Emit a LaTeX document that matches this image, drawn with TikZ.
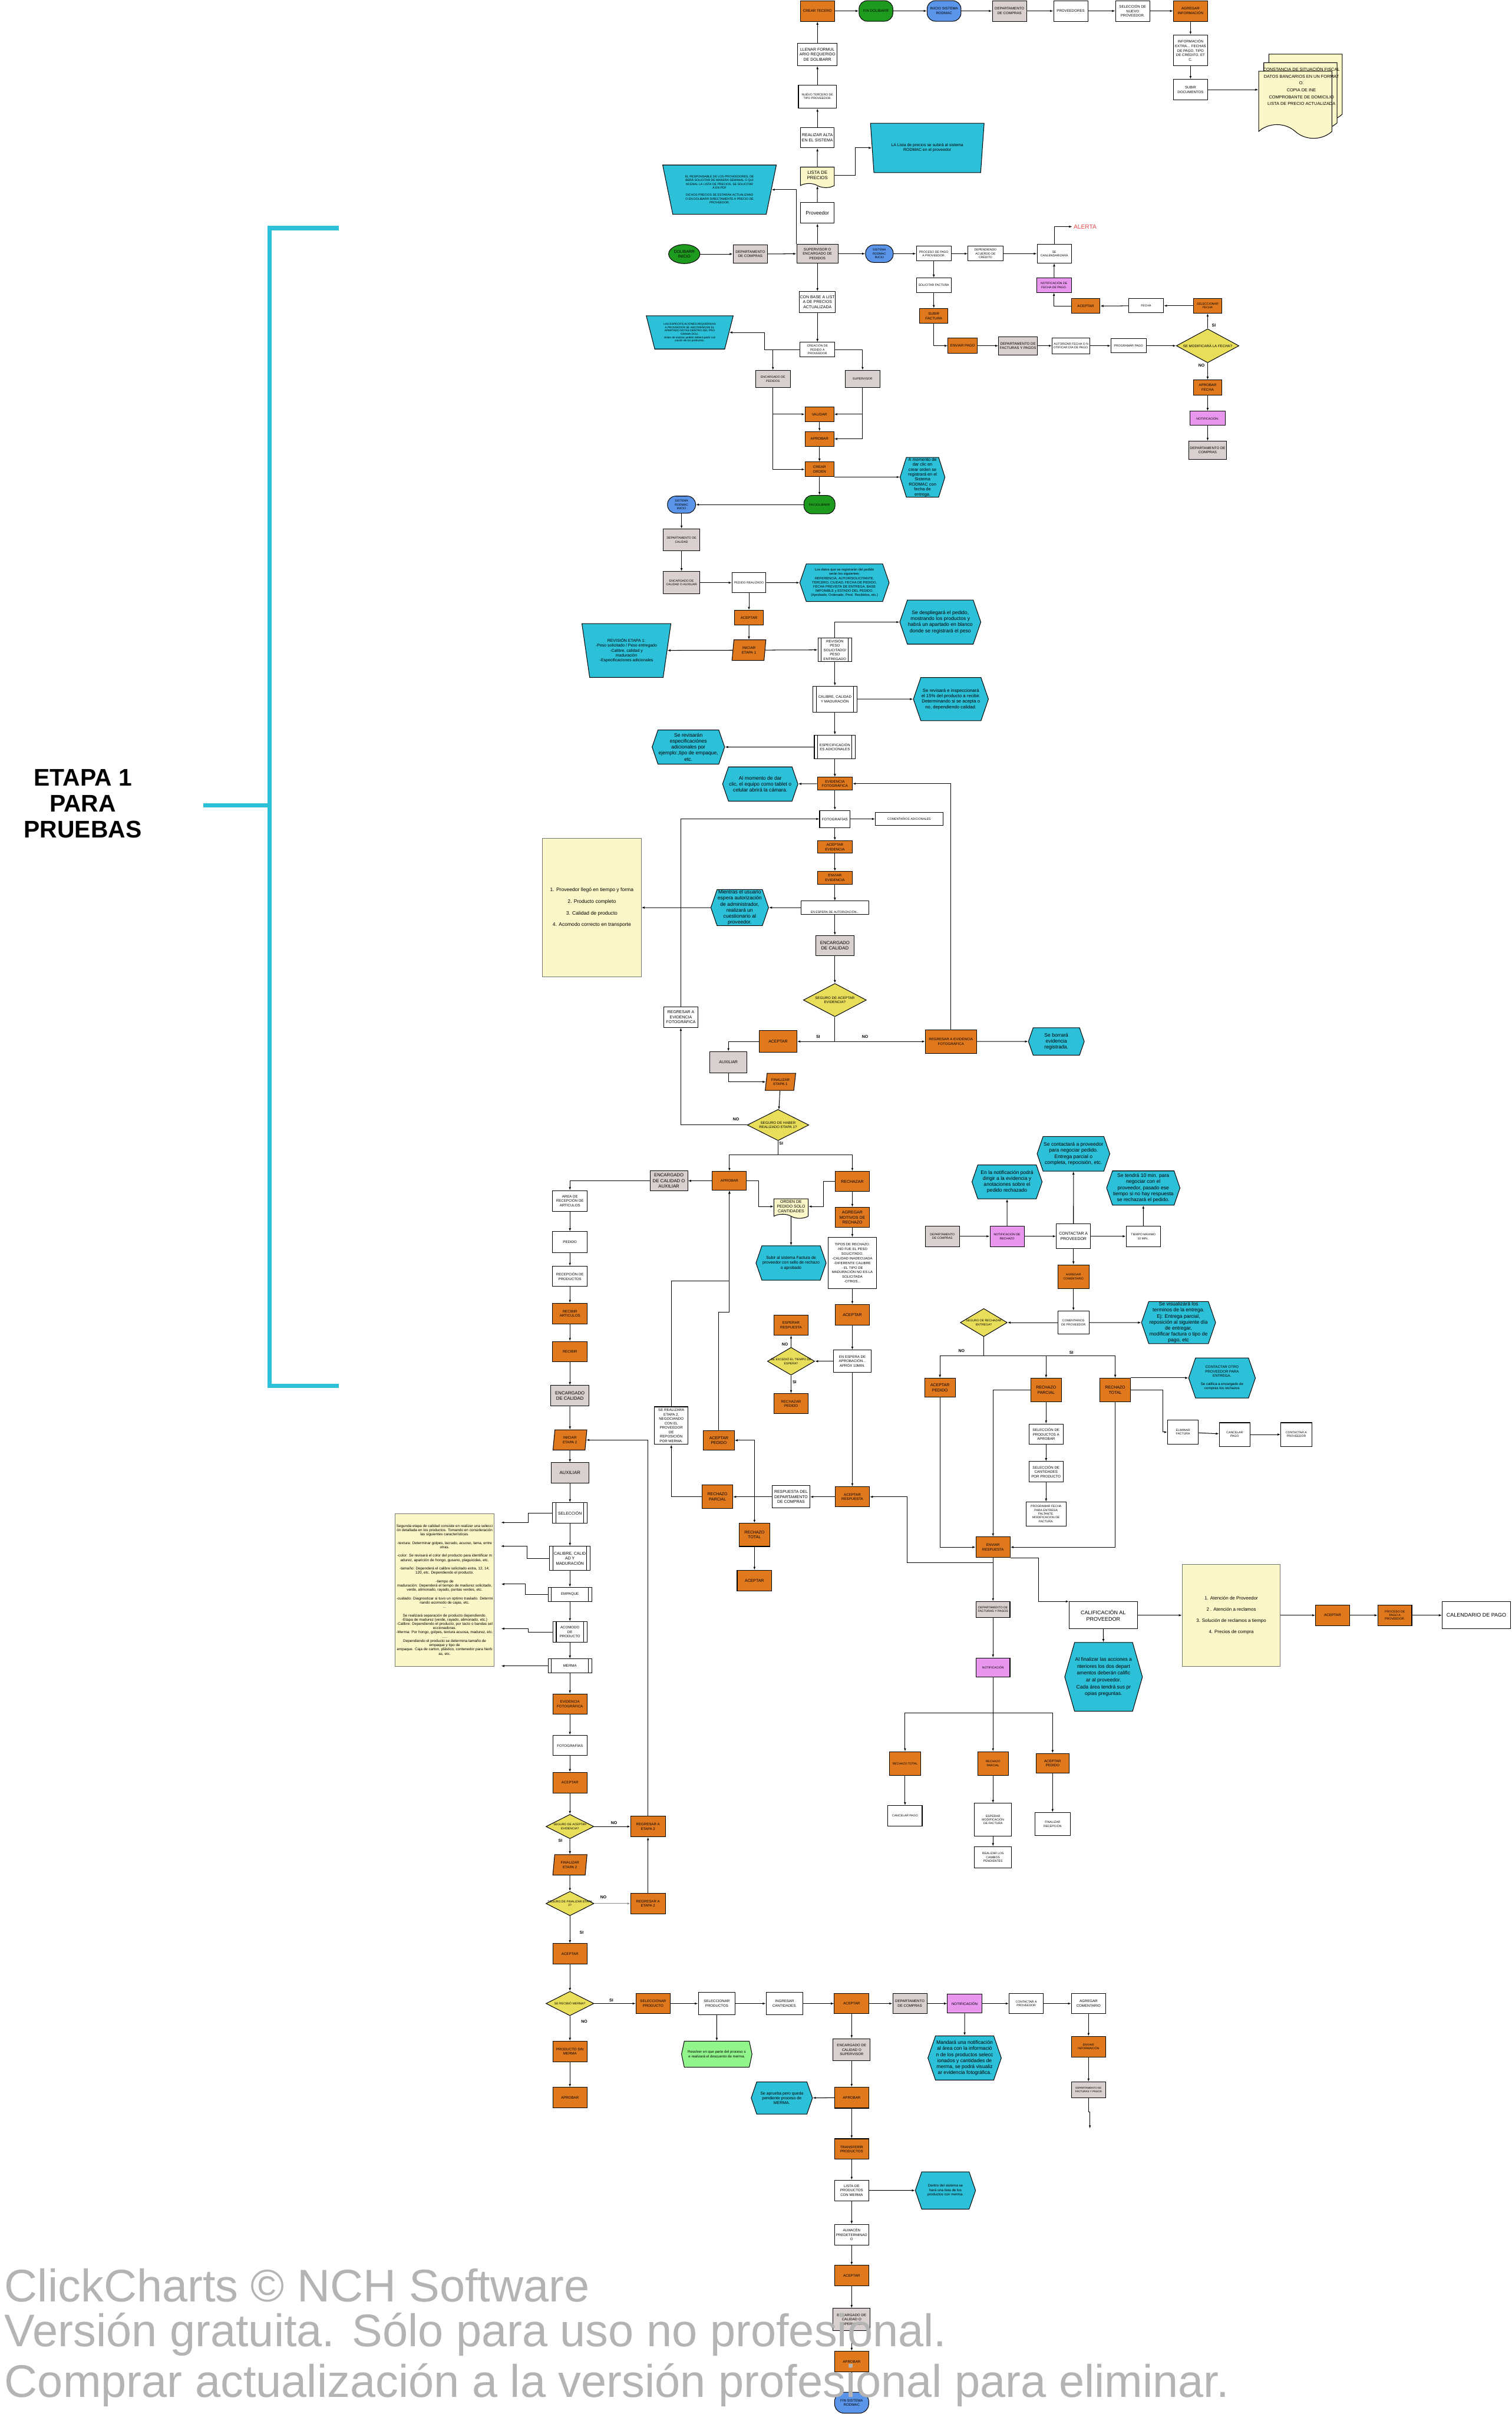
\documentclass[tikz,border=0pt]{standalone}
\usepackage{fontspec}
\setmainfont{Liberation Sans}
\usetikzlibrary{arrows.meta,shapes.geometric,shapes.symbols}
\definecolor{naranja}{HTML}{E0781E}
\definecolor{gris}{HTML}{D8CFCF}
\definecolor{rosa}{HTML}{E896EE}
\definecolor{cian}{HTML}{2CC0D9}
\definecolor{crema}{HTML}{FBF7C8}
\definecolor{amarillo}{HTML}{E8DE5A}
\definecolor{verde}{HTML}{1E9B1E}
\definecolor{verdec}{HTML}{92F58C}
\definecolor{azul}{HTML}{5B95E9}
\definecolor{rojo}{HTML}{F04848}
\definecolor{marca}{HTML}{B4B4B4}
\newcommand{\szA}{\fontsize{2.5}{3.1}\selectfont}
\newcommand{\szB}{\fontsize{3.0}{3.7}\selectfont}
\newcommand{\szC}{\fontsize{3.4}{4.1}\selectfont}
\newcommand{\szD}{\fontsize{3.8}{4.6}\selectfont}
\newcommand{\szE}{\fontsize{4.2}{5.0}\selectfont}
\tikzset{
  tam/.style 2 args={minimum width=#1cm,minimum height=#2cm},
  base/.style={draw,line width=0.5pt,align=center,inner sep=0.5pt,font=\szB},
  caja/.style={base,rectangle,fill=white},
  nar/.style={caja,fill=naranja},
  gri/.style={caja,fill=gris},
  ros/.style={caja,fill=rosa},
  nota/.style={caja,fill=crema,draw=black!55},
  proc/.style={caja,path picture={
      \draw[line width=0.5pt] ([xshift=0.1cm]path picture bounding box.north west) -- ([xshift=0.1cm]path picture bounding box.south west);
      \draw[line width=0.5pt] ([xshift=-0.1cm]path picture bounding box.north east) -- ([xshift=-0.1cm]path picture bounding box.south east);}},
  estadio/.style={base,rectangle,rounded corners=0.24cm},
  hexa/.style={base,signal,signal to=east and west,signal pointer angle=142,fill=cian,font=\szE},
  trap/.style={base,trapezium,shape border rotate=180,trapezium stretches body,fill=cian},
  paral/.style={base,trapezium,trapezium left angle=77,trapezium right angle=103,trapezium stretches body,fill=naranja},
  docu/.style={base,tape,tape bend top=none,tape bend bottom=out and in,tape bend height=0.12cm,fill=crema},
  rombo/.style={base,diamond,fill=amarillo,inner sep=0pt},
  lbl/.style={font=\bfseries\fontsize{3.4}{4}\selectfont,inner sep=0pt},
  flecha/.style={-{Latex[length=0.9mm,width=0.65mm]},line width=0.5pt},
  linea/.style={line width=0.5pt}
}
\begin{document}
\begin{tikzpicture}
\useasboundingbox (0,0) rectangle (44.17,-70.51);
\fill[white] (0,0) rectangle (44.17,-70.51);

\draw[cian,line width=3.6pt] (9.90,-6.66) -- (7.87,-6.66) -- (7.87,-40.48) -- (9.90,-40.48);
\draw[cian,line width=3.6pt] (7.87,-23.52) -- (5.94,-23.52);
\node[font=\bfseries\fontsize{20}{21.6}\selectfont,align=center] (etapa) at (2.42,-23.48) {ETAPA 1\\PARA\\PRUEBAS};

\node[nar,tam={1.00}{0.60}] (crearT) at (23.88,-0.32) {CREAR TECERO};
\node[estadio,fill=verde,tam={0.99}{0.60}] (finDoliA) at (25.59,-0.32) {FIN DOLIBARR};
\node[estadio,fill=azul,tam={0.99}{0.60}] (inicioRod) at (27.58,-0.32) {INICIO SISTEMA\\RODMAC};
\node[gri,tam={1.00}{0.60}] (deptCompA) at (29.49,-0.32) {DEPARTAMENTO\\DE COMPRAS};
\node[caja,tam={1.00}{0.60}] (proveedores) at (31.28,-0.32) {PROVEEDORES};
\node[caja,tam={1.00}{0.60}] (selNuevo) at (33.09,-0.32) {SELECCIÓN DE\\NUEVO\\PROVEEDOR.};
\node[nar,tam={1.00}{0.60}] (agregarInfo) at (34.78,-0.32) {AGREGAR\\INFORMACIÓN};
\node[caja,tam={1.00}{0.90}] (infoExtra) at (34.78,-1.47) {INFORMACIÓN\\EXTRA... FECHAS\\DE PAGO, TIPO\\DE CRÉDITO. ET\\C.};
\node[caja,tam={1.00}{0.60}] (subirDocs) at (34.78,-2.62) {SUBIR\\DOCUMENTOS};
\node[docu,tape bend height=0.4cm,tam={2.14}{1.96}] (docB) at (38.14,-2.36) {};
\node[docu,tape bend height=0.4cm,tam={2.14}{1.96}] (docM) at (37.99,-2.61) {};
\node[docu,tape bend height=0.4cm,tam={2.14}{1.96}] (docF) at (37.84,-2.86) {};
\node[font=\fontsize{3.6}{5.7}\selectfont,align=center,inner sep=0pt] (docTxt) at (38.02,-2.52) {CONSTANCIA DE SITUACIÓN FISCAL\\DATOS BANCARIOS EN UN FORMAT\\O.\\COPIA DE INE\\COMPROBANTE DE DOMICILIO\\LISTA DE PRECIO ACTUALIZADA};

\node[caja,tam={1.15}{0.66},font=\szC] (llenar) at (23.88,-1.59) {LLENAR FORMUL\\ARIO REQUERIDO\\DE DOLIBARR};
\node[caja,tam={1.11}{0.68},font=\szA] (nuevoT) at (23.88,-2.82) {NUEVO TERCERO DE\\TIPO PROVEEDOR.};
\node[caja,tam={0.99}{0.60},font=\szC] (altaSis) at (23.88,-4.02) {REALIZAR ALTA\\EN EL SISTEMA};
\node[docu,tam={0.99}{0.60},font=\szD] (listaP) at (23.88,-5.12) {LISTA DE\\PRECIOS};
\node[trap,trapezium angle=71,tam={3.32}{1.44},font=\szC] (trapR) at (27.09,-4.32) {LA Lista de precios se subirá al sistema\\RODMAC en el proveedor};
\node[caja,tam={0.99}{0.60},font=\szE] (proveedor) at (23.88,-6.22) {Proveedor};
\node[trap,trapezium angle=71,tam={3.32}{1.44},font=\szA] (trapL) at (21.02,-5.54) {EL RESPONSABLE DE LOS PROVEEDORES, DE\\BERÁ SOLICITAR DE MANERA SEMANAL O QUI\\NCENAL LA LISTA DE PRECIOS, SE SOLICITAR\\Á EN PDF\\[3pt]DICHOS PRECIOS SE ESTARÁN ACTUALIZAND\\O EN DOLIBARR DIRECTAMENTE A PRECIO DE\\PROVEEDOR.};
\node[base,ellipse,fill=verde,tam={0.90}{0.56},font=\szC] (doliIni) at (19.99,-7.42) {DOLIBARR\\INICIO};
\node[gri,tam={1.01}{0.52}] (deptCompB) at (21.92,-7.42) {DEPARTAMENTO\\DE COMPRAS};
\node[gri,tam={1.21}{0.55}] (supEnc) at (23.88,-7.41) {SUPERVISOR O\\ENCARGADO DE\\PEDIDOS};
\node[estadio,fill=azul,tam={0.81}{0.51},font=\szA] (rodIni) at (25.69,-7.41) {SISTEMA\\RODMAC\\INICIO};
\node[caja,tam={1.02}{0.43},font=\szA] (procPago) at (27.28,-7.41) {PROCESO DE PAGO\\A PROVEEDOR.};
\node[caja,tam={1.02}{0.43},font=\szA] (dependiendo) at (28.79,-7.41) {DEPENDIENDO\\ACUERDO DE\\CRÉDITO};
\node[caja,tam={1.00}{0.54},font=\szA] (calendar) at (30.80,-7.41) {SE\\CANLENDARIZARÁ};
\node[text=rojo,font=\fontsize{5}{6}\selectfont,inner sep=1pt] (alerta) at (31.70,-6.62) {ALERTA};
\node[ros,tam={1.02}{0.42},font=\szA] (notifFecha) at (30.79,-8.33) {NOTIFICACIÓN DE\\FECHA DE PAGO.};
\node[nar,tam={0.83}{0.43}] (aceptarA) at (31.72,-8.94) {ACEPTAR};
\node[caja,tam={1.02}{0.42},font=\szA] (solFactura) at (27.28,-8.33) {SOLICITAR FACTURA};
\node[nar,tam={0.83}{0.44}] (subirFactura) at (27.28,-9.23) {SUBIR\\FACTURA};
\node[caja,tam={0.99}{0.61},font=\szC] (conBase) at (23.88,-8.82) {CON BASE A LIST\\A DE PRECIOS\\ACTUALIZADA};
\node[caja,tam={1.02}{0.42},font=\szA] (fecha) at (33.48,-8.93) {FECHA};
\node[nar,tam={0.84}{0.43},font=\szA] (selFecha) at (35.28,-8.93) {SELECCIONAR\\FECHA};
\node[rombo,tam={1.83}{0.99},label={[font=\szB]center:SE MODIFICARÁ LA FECHA?}] (modFecha) at (35.28,-10.10) {};
\node[caja,tam={1.03}{0.42},font=\szA] (progPago) at (32.97,-10.10) {PROGRAMÁR PAGO};
\node[caja,tam={1.10}{0.46},font=\szA] (autorizar) at (31.29,-10.10) {AUTORIZAR FECHA O N\\OTIFICAR DÍA DE PAGO.};
\node[nar,tam={0.85}{0.44}] (enviarPago) at (28.12,-10.10) {ENVIAR PAGO};
\node[gri,tam={1.13}{0.53}] (deptFact) at (29.74,-10.10) {DEPARTAMENTO DE\\FACTURAS Y PAGOS};
\node[nar,tam={0.82}{0.44}] (aprobFecha) at (35.28,-11.32) {APROBAR\\FECHA};
\node[ros,tam={1.02}{0.41},font=\szA] (notifA) at (35.28,-12.22) {NOTIFICACIÓN.};
\node[gri,tam={1.11}{0.53}] (deptCompC) at (35.28,-13.15) {DEPARTAMENTO DE\\COMPRAS};
\node[lbl] (siA) at (35.46,-9.51) {SI};
\node[lbl] (noA) at (35.10,-10.67) {NO};

\draw[flecha] (crearT) -- (finDoliA);
\draw[flecha] (finDoliA) -- (inicioRod);
\draw[flecha] (inicioRod) -- (deptCompA);
\draw[flecha] (deptCompA) -- (proveedores);
\draw[flecha] (proveedores) -- (selNuevo);
\draw[flecha] (selNuevo) -- (agregarInfo);
\draw[flecha] (agregarInfo) -- (infoExtra);
\draw[flecha] (infoExtra) -- (subirDocs);
\draw[flecha] (subirDocs.east) -- (subirDocs.east -| docF.west);
\draw[flecha] (supEnc) -- (proveedor);
\draw[flecha] (proveedor) -- (listaP);
\draw[flecha] (listaP) -- (altaSis);
\draw[flecha] (altaSis) -- (nuevoT);
\draw[flecha] (nuevoT) -- (llenar);
\draw[flecha] (llenar) -- (crearT);
\draw[flecha] (listaP.east) -- ++(0.61,0) |- (trapR.west);
\draw[flecha] (supEnc.north west) |- (trapL.east);
\draw[flecha] (doliIni) -- (deptCompB);
\draw[flecha] (deptCompB) -- (supEnc);
\draw[flecha] (supEnc) -- (rodIni);
\draw[flecha] (rodIni) -- (procPago);
\draw[flecha] (procPago) -- (dependiendo);
\draw[flecha] (dependiendo) -- (calendar);
\draw[flecha] (calendar.north) |- (alerta.west);
\draw[flecha] (procPago) -- (solFactura);
\draw[flecha] (solFactura) -- (subirFactura);
\draw[flecha] (subirFactura.south) |- (enviarPago.west);
\draw[flecha] (enviarPago) -- (deptFact);
\draw[flecha] (deptFact) -- (autorizar);
\draw[flecha] (autorizar) -- (progPago);
\draw[flecha] (progPago) -- (modFecha);
\draw[flecha] (modFecha) -- (selFecha);
\draw[flecha] (selFecha) -- (fecha);
\draw[flecha] (fecha) -- (aceptarA);
\draw[flecha] (aceptarA.west) -| (notifFecha.south);
\draw[flecha] (notifFecha) -- (calendar);
\draw[flecha] (modFecha) -- (aprobFecha);
\draw[flecha] (aprobFecha) -- (notifA);
\draw[flecha] (notifA) -- (deptCompC);
\draw[flecha] (supEnc) -- (conBase);

\node[trap,trapezium angle=68,tam={2.54}{0.97},font=\fontsize{2.3}{2.8}\selectfont] (trapE) at (20.15,-9.71) {LAS ESPECIFICACIÓNES REQUERIDAS\\A PROVEEDOR SE ANOTARÁN EN EL\\APARTADO NOTAS DENTRO DEL PRO\\GRAMA DOLI.\\Antes de realizar pedido deberá pedir coti\\zación de los productos.};
\node[caja,tam={1.02}{0.42},font=\szA] (creacion) at (23.88,-10.21) {CREACIÓN DE\\PEDIDO A\\PROVEEDOR};
\node[gri,tam={1.01}{0.50},font=\szA] (encPed) at (22.58,-11.07) {ENCARGADO DE\\PEDIDOS};
\node[gri,tam={1.02}{0.50},font=\szA] (superv) at (25.20,-11.07) {SUPERVISOR};
\node[nar,tam={0.84}{0.43}] (validar) at (23.94,-12.10) {VALIDAR};
\node[nar,tam={0.84}{0.43}] (aprobarB) at (23.94,-12.82) {APROBAR};
\node[nar,tam={0.84}{0.43}] (crearOrden) at (23.94,-13.71) {CREAR\\ORDEN};
\node[hexa,signal pointer angle=145,tam={1.31}{1.16},font=\fontsize{3.6}{4.1}\selectfont] (hexMomento) at (26.95,-13.94) {A momento de\\dar clic en\\crear orden se\\registrará en el\\Sistema\\RODMAC con\\fecha de\\entrega.};
\node[estadio,fill=verde,tam={0.91}{0.54},font=\szA] (finDoliB) at (23.94,-14.74) {FIN DOLIBARR};
\node[estadio,fill=azul,tam={0.82}{0.50},font=\szA] (rodIniB) at (19.91,-14.74) {SISTEMA\\RODMAC\\INICIO};
\node[gri,tam={1.08}{0.64},font=\szA] (deptCal) at (19.91,-15.77) {DEPARTAMENTO DE\\CALIDAD};
\node[gri,tam={1.08}{0.65},font=\szA] (encCalAux) at (19.91,-17.02) {ENCARGADO DE\\CALIDAD O AUXILIAR};
\node[caja,tam={0.99}{0.59},font=\szA] (pedReal) at (21.88,-17.02) {PEDIDO REALIZADO};
\node[hexa,tam={2.61}{1.10},font=\fontsize{2.8}{3.5}\selectfont] (hexDatos) at (24.67,-17.02) {Los datos que se registrarán del pedido\\serán los siguientes:\\REFERENCIA, AUTOR/SOLICITANTE,\\TERCERO, CIUDAD, FECHA DE PEDIDO,\\FECHA PREVISTA DE ENTREGA, BASE\\IMPONIBLE y ESTADO DEL PEDIDO.\\(Aprobado, Ordenado, Prod. Recibidos, etc.)};
\node[nar,tam={0.84}{0.43}] (aceptarB) at (21.88,-18.04) {ACEPTAR};
\node[paral,tam={0.99}{0.60}] (iniEt1) at (21.88,-18.99) {INICIAR\\ETAPA 1};
\node[trap,trapezium angle=73,tam={2.60}{1.57},font=\szC] (trapEt1) at (18.30,-19.00) {REVISIÓN ETAPA 1:\\-Peso solicitado / Peso entregado\\-Calibre, calidad y\\maduración\\-Especificaciones adicionales};
\node[proc,tam={0.99}{0.70}] (revPeso) at (24.39,-18.98) {REVISIÓN\\PESO\\SOLICITADO/\\PESO\\ENTREGADO};
\node[hexa,tam={2.36}{1.29}] (hexDesp) at (27.47,-18.17) {Se despliegará el pedido,\\mostrando los productos y\\habrá un apartado en blanco\\donde se registrará el peso};
\node[proc,tam={1.28}{0.76}] (calibre1) at (24.39,-20.42) {CALIBRE, CALIDAD\\Y MADURACIÓN};
\node[hexa,tam={2.17}{1.26},font=\szD] (hex15) at (27.78,-20.42) {Se revisará e inspeccionará\\el 15\% del producto a recibir.\\Determinando si se acepta o\\no, dependiendo calidad.};
\node[proc,tam={1.20}{0.70}] (espec1) at (24.39,-21.82) {ESPECIFICACIÓN\\ES ADICIONALES};
\node[hexa,tam={2.06}{1.00}] (hexEspec) at (20.11,-21.82) {Se revisarán\\especificaciónes\\adicionales por\\ejemplo:,tipo de empaque,\\etc.};
\node[nar,tam={1.02}{0.37}] (evid1) at (24.39,-22.89) {EVIDENCIA\\FOTOGRÁFICA};
\node[hexa,tam={2.05}{1.00}] (hexCam) at (22.21,-22.90) {Al momento de dar\\clic, el equipo como tablet o\\celular abrirá la cámara.};
\node[caja,tam={0.89}{0.50}] (fotos1) at (24.39,-23.92) {FOTOGRAFÍAS};
\node[caja,tam={1.97}{0.37},font=\szA] (coment) at (26.56,-23.92) {COMENTARIOS ADICIONALES};
\node[nar,tam={1.02}{0.37}] (acepEv) at (24.39,-24.74) {ACEPTAR\\EVIDENCIA};
\node[nar,tam={1.02}{0.37}] (envEv) at (24.39,-25.64) {ENVIAR\\EVIDENCIA};
\node[caja,tam={1.97}{0.38},label={[font=\szA,anchor=south,inner sep=1pt]south:EN ESPERA DE AUTORIZACIÓN...}] (espera) at (24.39,-26.51) {};
\node[hexa,tam={1.64}{0.93}] (hexMient) at (21.61,-26.51) {Mientras el usuario\\espera autorización\\de administrador,\\realizará un\\cuestionario al\\proveedor.};
\node[nota,tam={2.88}{4.04},font=\szE] (notaEt1) at (17.29,-26.51) {1. Proveedor llegó en tiempo y forma\\[4.7pt]2. Producto completo\\[4.7pt]3. Calidad de producto\\[4.7pt]4. Acomodo correcto en transporte};
\node[gri,tam={1.11}{0.59},font=\szD] (encCal1) at (24.39,-27.62) {ENCARGADO\\DE CALIDAD};
\node[rombo,tam={1.84}{0.97},label={[font=\szB,align=center]center:{SEGURO DE ACEPTAR\\EVIDENCIA?}}] (segAcep) at (24.39,-29.21) {};
\node[nar,tam={1.49}{0.69}] (regEvid) at (27.78,-30.42) {REGRESAR A EVIDENCIA\\FOTOGRÁFICA};
\node[hexa,tam={1.63}{0.80}] (hexBorr) at (30.86,-30.42) {Se borrará\\evidencia\\registrada.};
\node[nar,tam={1.10}{0.63},font=\szC] (aceptarC) at (22.73,-30.42) {ACEPTAR};
\node[caja,tam={1.00}{0.60},font=\szC] (regEvidW) at (19.89,-29.71) {REGRESAR A\\EVIDENCIA\\FOTOGRÁFICA};
\node[lbl] (siB) at (23.90,-30.28) {SI};
\node[lbl] (noB) at (25.27,-30.28) {NO};

\draw[flecha] (conBase) -- (creacion);
\draw[flecha] (creacion.west) -- ++(-1.02,0) |- (trapE.east);
\draw[flecha] (creacion.west) -| (encPed.north);
\draw[flecha] (creacion.east) -| (superv.north);
\draw[flecha] (encPed.south) |- (validar.west);
\draw[flecha] (encPed.south) |- (crearOrden.west);
\draw[flecha] (superv.south) |- (validar.east);
\draw[flecha] (superv.south) |- (aprobarB.east);
\draw[flecha] (validar) -- (aprobarB);
\draw[flecha] (aprobarB) -- (crearOrden);
\draw[flecha] (crearOrden.south east) -- (crearOrden.south east -| hexMomento.west);
\draw[flecha] (crearOrden) -- (finDoliB);
\draw[flecha] (finDoliB) -- (rodIniB);
\draw[flecha] (rodIniB) -- (deptCal);
\draw[flecha] (deptCal) -- (encCalAux);
\draw[flecha] (encCalAux) -- (pedReal);
\draw[flecha] (pedReal) -- (hexDatos);
\draw[flecha] (pedReal) -- (aceptarB);
\draw[flecha] (aceptarB) -- (iniEt1);
\draw[flecha] (iniEt1) -- (trapEt1);
\draw[flecha] (iniEt1) -- (revPeso);
\draw[flecha] (revPeso.north) |- (hexDesp.west);
\draw[flecha] (revPeso) -- (calibre1);
\draw[flecha] (calibre1) -- (hex15);
\draw[flecha] (calibre1) -- (espec1);
\draw[flecha] (espec1) -- (hexEspec);
\draw[flecha] (espec1) -- (evid1);
\draw[flecha] (evid1) -- (hexCam);
\draw[flecha] (evid1) -- (fotos1);
\draw[flecha] (fotos1) -- (coment);
\draw[flecha] (fotos1) -- (acepEv);
\draw[flecha] (acepEv) -- (envEv);
\draw[flecha] (envEv) -- (espera);
\draw[flecha] (espera) -- (hexMient);
\draw[flecha] (hexMient) -- (notaEt1);
\draw[flecha] (espera) -- (encCal1);
\draw[flecha] (encCal1) -- (segAcep);
\draw[flecha] (segAcep.south) |- (regEvid.west);
\draw[flecha] (segAcep.south) |- (aceptarC.east);
\draw[flecha] (regEvid) -- (hexBorr);
\draw[flecha] (regEvid.north) |- (evid1.east);
\draw[flecha] (regEvidW.north) |- (fotos1.west);

\node[gri,tam={1.08}{0.63},font=\szC] (auxC) at (21.28,-31.03) {AUXILIAR};
\node[paral,tam={0.89}{0.50}] (finEt1) at (22.80,-31.60) {FINALIZAR\\ETAPA 1};
\node[rombo,tam={1.80}{0.91},label={[font=\szB,align=center]center:{SEGURO DE HABER\\REALIZADO ETAPA 1?}}] (segEt1) at (22.73,-32.86) {};
\node[lbl] (noC) at (21.50,-32.70) {NO};
\node[lbl] (siC) at (22.82,-33.39) {SI};
\draw[flecha] (aceptarC.west) -| (auxC.north);
\draw[flecha] (auxC.south) |- (finEt1.west);
\draw[flecha] (finEt1) -- (segEt1);
\draw[flecha] (segEt1.west) -| (regEvidW.south);

\node[nar,tam={1.00}{0.55}] (aprobarD) at (21.31,-34.49) {APROBAR};
\node[gri,tam={1.10}{0.58},font=\szD] (encCalAux2) at (19.54,-34.49) {ENCARGADO\\DE CALIDAD O\\AUXILIAR};
\node[caja,tam={1.01}{0.61}] (areaRec) at (16.65,-35.08) {AREA DE\\RECEPCIÓN DE\\ARTICULOS};
\node[caja,tam={1.01}{0.61}] (pedidoD) at (16.65,-36.28) {PEDIDO};
\node[caja,tam={1.01}{0.59}] (recProd) at (16.65,-37.28) {RECEPCIÓN DE\\PRODUCTOS};
\node[nar,tam={1.01}{0.61}] (recArt) at (16.65,-38.37) {RECIBIR\\ARTICULOS};
\node[nar,tam={1.01}{0.60}] (recibir) at (16.65,-39.48) {RECIBIR};
\node[gri,tam={1.11}{0.60},font=\szD] (encCal2) at (16.65,-40.77) {ENCARGADO\\DE CALIDAD};
\node[paral,tam={0.99}{0.59}] (iniEt2) at (16.65,-42.06) {INICIAR\\ETAPA 2};
\node[gri,tam={1.10}{0.59},font=\szD] (auxiliar) at (16.65,-43.02) {AUXILIAR};
\node[proc,tam={1.01}{0.60},font=\szC] (seleccion) at (16.65,-44.19) {SELECCIÓN};
\node[proc,tam={1.18}{0.71},font=\szC] (calibre2) at (16.65,-45.52) {CALIBRE, CALID\\AD Y\\MADURACIÓN};
\node[caja,tam={0.99}{1.10}] (seRealizara) at (19.61,-41.64) {SE REALIZARA\\ETAPA 2,\\NEGOCIANDO\\CON EL\\PROVEEDOR\\DE\\REPOSICIÓN\\POR MERMA.};
\node[nar,tam={0.90}{0.56},font=\szC] (acepPedD) at (21.00,-42.07) {ACEPTAR\\PEDIDO};
\node[nar,tam={0.89}{0.69},font=\szC] (rechParcD) at (20.96,-43.72) {RECHAZO\\PARCIAL};
\node[nar,tam={1.00}{0.59},font=\szC] (rechazarD) at (24.90,-34.51) {RECHAZAR};
\node[docu,tam={1.00}{0.57},font=\szC] (ordenSolo) at (23.11,-35.24) {ORDEN DE\\PEDIDO SOLO\\CANTIDADES};
\node[hexa,tam={2.05}{1.00},font=\szC] (hexSubir) at (23.11,-36.89) {Subir al sistema Factura de\\proveedor con sello de rechazo\\o aprobado};
\node[nar,tam={1.00}{0.59},font=\szC] (agrMot) at (24.90,-35.56) {AGREGAR\\MOTIVOS DE\\RECHAZO};
\node[caja,tam={1.41}{1.49},font=\fontsize{2.9}{3.9}\selectfont] (tipos) at (24.90,-36.89) {TIPOS DE RECHAZO:\\-NO FUE EL PESO\\SOLICITADO.\\-CALIDAD INADECUADA\\-DIFERENTE CALIBRE\\- EL TIPO DE\\MADURACIÓN NO ES LA\\SOLICITADA\\-OTROS...};
\node[nar,tam={1.00}{0.60},font=\szC] (aceptarD) at (24.90,-38.40) {ACEPTAR};
\node[caja,tam={1.09}{0.65}] (esperaAprob) at (24.90,-39.76) {EN ESPERA DE\\APROBACIÓN...\\APRÓX 10MIN.};
\node[rombo,tam={1.38}{0.81},label={[font=\szA,align=center]center:{SE EXCEDIÓ EL TIEMPO DE\\ESPERA?}}] (excedio) at (23.11,-39.76) {};
\node[nar,tam={1.00}{0.59}] (espResp) at (23.11,-38.70) {ESPERAR\\RESPUESTA};
\node[nar,tam={1.00}{0.59}] (rechPed) at (23.11,-41.00) {RECHAZAR\\PEDIDO};
\node[nar,tam={1.00}{0.59}] (acepResp) at (24.90,-43.72) {ACEPTAR\\RESPUESTA};
\node[caja,tam={1.10}{0.66},font=\szC] (respDept) at (23.11,-43.72) {RESPUESTA DEL\\DEPARTAMENTO\\DE COMPRAS};
\node[nar,tam={0.89}{0.68},font=\szC] (rechTotD) at (22.04,-44.83) {RECHAZO\\TOTAL};
\node[nar,tam={1.01}{0.61},font=\szC] (aceptarD2) at (22.04,-46.17) {ACEPTAR};
\node[lbl] (noD) at (22.93,-39.26) {NO};
\node[lbl] (siD) at (23.21,-40.37) {SI};

\draw[linea] (segEt1.south) -- ++(0,-0.40) coordinate (jSI);
\draw[flecha] (jSI) -| (aprobarD.north);
\draw[flecha] (jSI) -| (rechazarD.north);
\draw[flecha] (aprobarD) -- (encCalAux2);
\draw[flecha] (encCalAux2.west) -| (areaRec.north);
\draw[flecha] (areaRec) -- (pedidoD);
\draw[flecha] (pedidoD) -- (recProd);
\draw[flecha] (recProd) -- (recArt);
\draw[flecha] (recArt) -- (recibir);
\draw[flecha] (recibir) -- (encCal2);
\draw[flecha] (encCal2) -- (iniEt2);
\draw[flecha] (iniEt2) -- (auxiliar);
\draw[flecha] (auxiliar) -- (seleccion);
\draw[flecha] (seleccion) -- (calibre2);
\draw[flecha] (aprobarD.east) -- ++(0.34,0) |- (ordenSolo.west);
\draw[flecha] (rechazarD.west) -- ++(-0.34,0) |- (ordenSolo.east);
\draw[flecha] (ordenSolo) -- (hexSubir);
\draw[flecha] (rechazarD) -- (agrMot);
\draw[flecha] (agrMot) -- (tipos);
\draw[flecha] (tipos) -- (aceptarD);
\draw[flecha] (aceptarD) -- (esperaAprob);
\draw[flecha] (esperaAprob) -- (acepResp);
\draw[flecha] (esperaAprob) -- (excedio);
\draw[flecha] (excedio) -- (espResp);
\draw[flecha] (excedio) -- (rechPed);
\draw[flecha] (acepResp) -- (respDept);
\draw[flecha] (respDept) -- (rechParcD);
\coordinate (jR) at (rechTotD.north |- respDept.west);
\draw[flecha] (jR) |- (acepPedD.east);
\draw[flecha] (jR) -- (rechTotD.north);
\draw[flecha] (rechTotD) -- (aceptarD2);
\draw[flecha] (acepPedD.north) -- ++(0,3.46) -| (aprobarD.south);
\draw[flecha] (seRealizara.north) -- ++(0,3.66) -| (aprobarD.south);
\draw[flecha] (rechParcD.west) -| (seRealizara.south);

\node[gri,tam={1.00}{0.60},font=\szA] (deptCompD) at (27.53,-36.11) {DEPARTAMENTO\\DE COMPRAS};
\node[ros,tam={1.00}{0.60},font=\szA] (notifRech) at (29.42,-36.11) {NOTIFICACIÓN DE\\RECHAZO};
\node[hexa,tam={2.05}{0.99}] (hexNotif) at (29.42,-34.52) {En la notificación podrá\\dirigir a la evidencia y\\anotaciones sobre el\\pedido rechazado};
\node[caja,tam={1.00}{0.73},font=\szC] (contactar) at (31.36,-36.11) {CONTACTAR A\\PROVEEDOR};
\node[hexa,tam={2.05}{1.01}] (hexContact) at (31.36,-33.70) {Se contactará a proveedor\\para negociar pedido.\\Entrega parcial o\\completa, repocisión, etc.};
\node[caja,tam={1.00}{0.60},font=\szA] (tiempoMax) at (33.40,-36.11) {TIEMPO MÁXIMO\\10 MIN..};
\node[hexa,tam={2.06}{1.00}] (hex10) at (33.40,-34.70) {Se tendrá 10 min. para\\negociar con el\\proveedor, pasado ese\\tiempo si no hay respuesta\\se rechazará el pedido.};
\node[nar,tam={0.91}{0.69},font=\szA] (agrCom) at (31.36,-37.29) {AGREGAR\\COMENTARIO};
\node[caja,tam={0.91}{0.68},font=\szA] (comProv) at (31.36,-38.63) {COMENTARIOS\\DE PROVEEDOR};
\node[hexa,tam={2.05}{1.18}] (hexTerm) at (34.43,-38.63) {Se visualizará los\\terminos de la entrega.\\Ej: Entrega parcial,\\reposición al siguiente día\\de entregar,\\modificar factura o tipo de\\pago, etc};
\node[rombo,tam={1.37}{0.82},label={[font=\szA,align=center]center:{SEGURO DE RECHAZAR\\ENTREGA?}}] (segRech) at (28.74,-38.63) {};
\node[nar,tam={0.90}{0.55},font=\szC] (acepPedE) at (27.46,-40.53) {ACEPTAR\\PEDIDO};
\node[nar,tam={0.90}{0.69},font=\szC] (rechParcE) at (30.56,-40.60) {RECHAZO\\PARCIAL};
\node[nar,tam={0.90}{0.69},font=\szC] (rechTotE) at (32.58,-40.60) {RECHAZO\\TOTAL};
\node[caja,tam={1.00}{0.60}] (selProdAp) at (30.56,-41.89) {SELECCIÓN DE\\PRODUCTOS A\\APROBAR};
\node[caja,tam={1.00}{0.60}] (selCant) at (30.56,-42.99) {SELECCIÓN DE\\CANTIDADES\\POR PRODUCTO};
\node[caja,tam={1.17}{0.70},font=\szA] (progFecha) at (30.56,-44.22) {PROGRAMAR FECHA\\PARA ENTREGA\\FALTANTE.\\MODIFICACION DE\\FACTURA.};
\node[nar,tam={1.00}{0.60}] (envResp) at (29.01,-45.19) {ENVIAR\\RESPUESTA};
\node[hexa,tam={1.95}{1.17},font=\szB] (hexOtro) at (35.70,-40.25) {CONTACTAR OTRO\\PROVEEDOR PARA\\ENTREGA.\\[3pt]Se califica a encargado de\\compras los rechazos};
\node[caja,tam={0.90}{0.69},font=\szA] (elimFact) at (34.56,-41.83) {ELIMINAR\\FACTURA};
\node[caja,tam={0.90}{0.69},font=\szA] (cancelE) at (36.07,-41.90) {CANCELAR\\PAGO};
\node[caja,tam={0.90}{0.69},font=\szA] (contE) at (37.87,-41.90) {CONTACTAR A\\PROVEEDOR};
\node[lbl] (noE) at (28.09,-39.46) {NO};
\node[lbl] (siE) at (31.30,-39.50) {SI};

\draw[flecha] (deptCompD) -- (notifRech);
\draw[flecha] (notifRech) -- (contactar);
\draw[flecha] (contactar) -- (tiempoMax);
\draw[flecha] (notifRech) -- (hexNotif);
\draw[flecha] (contactar) -- (hexContact);
\draw[flecha] (tiempoMax) -- (hex10);
\draw[flecha] (contactar) -- (agrCom);
\draw[flecha] (agrCom) -- (comProv);
\draw[flecha] (comProv) -- (hexTerm);
\draw[flecha] (comProv) -- (segRech);
\draw[linea] (segRech.south) -- ++(0,-0.56) coordinate (jE);
\draw[flecha] (jE) -| (acepPedE.north);
\draw[flecha] (jE) -| (rechParcE.north);
\draw[flecha] (jE) -| (rechTotE.north);
\draw[flecha] (rechParcE) -- (selProdAp);
\draw[flecha] (selProdAp) -- (selCant);
\draw[flecha] (selCant) -- (progFecha);
\draw[flecha] (acepPedE.south) |- (envResp.west);
\draw[flecha] (rechParcE.west) -| (envResp.north);
\draw[flecha] (rechTotE.south) |- (envResp.east);
\draw[flecha] (rechTotE.north east) -- (rechTotE.north east -| hexOtro.west);
\draw[flecha] (rechTotE.east) -- ++(0.94,0) |- (elimFact.west);
\draw[flecha] (elimFact) -- (cancelE);
\draw[flecha] (cancelE) -- (contE);
\draw[flecha] (envResp.south) -- ++(0,-0.14) -- ++(-2.51,0) |- (acepResp.east);

\node[gri,tam={0.99}{0.46},font=\szA] (deptFactF) at (29.01,-47.01) {DEPARTAMENTO DE\\FACTURAS Y PAGOS};
\node[caja,tam={1.99}{0.79},font=\fontsize{4.4}{5.3}\selectfont] (califProv) at (32.23,-47.18) {CALIFICACIÓN AL\\PROVEEDOR};
\node[nota,tam={2.86}{2.97},font=\fontsize{3.9}{4.7}\selectfont] (notaCal) at (35.97,-47.18) {1. Atención de Proveedor\\[4.5pt]2 . Atención a reclamos\\[4.5pt]3. Solución de reclamos a tiempo\\[4.5pt]4. Precios de compra};
\node[nar,tam={0.99}{0.61}] (aceptarF) at (38.93,-47.18) {ACEPTAR};
\node[nar,tam={0.99}{0.61},font=\szA] (procPagoF) at (40.75,-47.18) {PROCESO DE\\PAGO A\\PROVEEDOR.};
\node[caja,tam={1.99}{0.79},font=\fontsize{4.4}{5.3}\selectfont] (calPago) at (43.13,-47.18) {CALENDARIO DE PAGO};
\node[hexa,signal pointer angle=148,tam={2.27}{2.01},font=\fontsize{4.2}{5.7}\selectfont] (hexFinal) at (32.24,-48.98) {Al finalizar las acciones a\\nteriores los dos depart\\amentos deberán calific\\ar al proveedor.\\Cada área tendrá sus pr\\opias preguntas.};
\node[ros,tam={0.99}{0.55},font=\szA] (notifF) at (29.01,-48.70) {NOTIFICACIÓN};
\node[nar,tam={0.92}{0.69},font=\szA] (rechTotF) at (26.44,-51.51) {RECHAZO TOTAL};
\node[nar,tam={0.90}{0.69},font=\szA] (rechParcF) at (29.01,-51.51) {RECHAZO\\PARCIAL};
\node[nar,tam={0.97}{0.57}] (acepPedF) at (30.75,-51.50) {ACEPTAR\\PEDIDO};
\node[caja,tam={1.00}{0.60},font=\szA] (cancelF) at (26.44,-53.04) {CANCELAR PAGO};
\node[caja,tam={1.08}{0.95},font=\szA] (esperaModF) at (29.01,-53.15) {ESPERAR\\MODIFICACIÓN\\DE FACTURA};
\node[caja,tam={1.08}{0.63},font=\szA] (cambiosF) at (29.01,-54.25) {REALIZAR LOS\\CAMBIOS\\PENDIENTES};
\node[caja,tam={1.03}{0.68},font=\szA] (finRecF) at (30.75,-53.28) {FINALIZAR\\RECEPCIÓN};

\draw[flecha] (envResp) -- (deptFactF);
\draw[flecha] (envResp.south east) -- ++(0.82,0) |- (califProv.north west);
\draw[flecha] (deptFactF) -- (notifF);
\draw[linea] (notifF.south) -- ++(0,-1.05) coordinate (jF);
\draw[flecha] (jF) -| (rechTotF.north);
\draw[flecha] (jF) -- (rechParcF.north);
\draw[flecha] (jF) -| (acepPedF.north);
\draw[flecha] (califProv) -- (notaCal);
\draw[flecha] (califProv) -- (hexFinal);
\draw[flecha] (notaCal) -- (aceptarF);
\draw[flecha] (aceptarF) -- (procPagoF);
\draw[flecha] (procPagoF) -- (calPago);
\draw[flecha] (rechTotF) -- (cancelF);
\draw[flecha] (rechParcF) -- (esperaModF);
\draw[flecha] (esperaModF) -- (cambiosF);
\draw[flecha] (acepPedF) -- (finRecF);

\node[nota,tam={2.88}{4.46},font=\fontsize{3.1}{3.54}\selectfont] (notaEt2) at (12.99,-46.44) {Segunda etapa de calidad consiste en realizar una selecci\\ón detallada en los productos. Tomando en consideración\\las siguientes características.\\[3.54pt]-textura: Determinar golpes, lacrado, acuoso, lama, entre\\otras.\\[3.54pt]-color: Se revisará el color del producto para identificar m\\adurez, aparición de hongo, gusano, plaguicidas, etc.\\[3.54pt]-tamaño: Dependerá el calibre solicitado extra, 12, 14,\\120, etc. Dependiendo el producto.\\[3.54pt]-tiempo de\\maduración: Dependerá el tiempo de madurez solicitado,\\verde, alimonado, rayado, puntas verdes, etc.\\[3.54pt]-cuidado: Diagnosticar si tuvo un optimo traslado. Determi\\nando acomodo de cajas, etc.\\...\\[3.54pt]Se realizará separación de producto dependiendo.\\-Etapa de madurez (verde, rayado, alimonado, etc.)\\-Calibre: Dependiendo el producto, por tacto o bandas sel\\eccionadoras.\\-Merma: Por hongo, golpes, textura acuosa, madurez, etc.\\.....\\Dependiendo el producto se determina tamaño de\\empaque y tipo de\\empaque. Caja de carton, plástico, contenedor para hierb\\as, etc.};
\node[proc,tam={1.28}{0.41}] (empaque) at (16.65,-46.57) {EMPAQUE};
\node[proc,tam={1.00}{0.61}] (acomodo) at (16.65,-47.67) {ACOMODO\\DE\\PRODUCTO};
\node[proc,tam={1.28}{0.41}] (merma) at (16.65,-48.66) {MERMA};
\node[nar,tam={1.00}{0.59}] (evid2) at (16.65,-49.77) {EVIDENCIA\\FOTOGRÁFICA};
\node[caja,tam={1.00}{0.59}] (fotos2) at (16.65,-50.98) {FOTOGRAFÍAS};
\node[nar,tam={1.00}{0.60}] (aceptarG1) at (16.65,-52.07) {ACEPTAR};
\node[rombo,tam={1.40}{0.71},label={[font=\szA,align=center]center:{SEGURO DE ACEPTAR\\EVIDENCIA?}}] (segAcep2) at (16.65,-53.35) {};
\node[nar,tam={1.01}{0.60}] (regEt2a) at (18.93,-53.35) {REGRESAR A\\ETAPA 2};
\node[paral,tam={1.00}{0.60}] (finEt2) at (16.65,-54.47) {FINALIZAR\\ETAPA 2};
\node[rombo,tam={1.40}{0.71},label={[font=\szA,align=center]center:{SEGURO DE FINALIZAR ETAPA\\2?}}] (segFin) at (16.65,-55.60) {};
\node[nar,tam={1.01}{0.60}] (regEt2b) at (18.93,-55.60) {REGRESAR A\\ETAPA 2};
\node[nar,tam={1.00}{0.60}] (aceptarG2) at (16.65,-57.07) {ACEPTAR};
\node[rombo,tam={1.40}{0.71},label={[font=\szA]center:SE RECIBIÓ MERMA?}] (recMerma) at (16.65,-58.52) {};
\node[nar,tam={1.00}{0.60}] (prodSin) at (16.65,-59.92) {PRODUCTO SIN\\MERMA};
\node[nar,tam={1.00}{0.60}] (aprobarG3) at (16.65,-61.27) {APROBAR};
\node[nar,tam={1.00}{0.59}] (selProdO) at (19.08,-58.52) {SELECCIONAR\\PRODUCTO};
\node[caja,tam={1.08}{0.64}] (selProdW) at (20.94,-58.52) {SELECCIONAR\\PRODUCTOS};
\node[caja,tam={1.08}{0.64}] (ingCant) at (22.92,-58.52) {INGRESAR\\CANTIDADES.};
\node[nar,tam={1.01}{0.60}] (aceptarG3) at (24.88,-58.52) {ACEPTAR};
\node[gri,tam={1.00}{0.60}] (deptCompG) at (26.58,-58.52) {DEPARTAMENTO\\DE COMPRAS};
\node[ros,tam={1.00}{0.56}] (notifG) at (28.18,-58.52) {NOTIFICACIÓN};
\node[caja,tam={1.00}{0.60},font=\szA] (contactG) at (29.98,-58.52) {CONTACTAR A\\PROVEEDOR};
\node[caja,tam={1.00}{0.60}] (agrComG) at (31.80,-58.52) {AGREGAR\\COMENTARIO};
\node[nar,tam={1.00}{0.60},font=\szA] (envInfo) at (31.80,-59.78) {ENVIAR\\INFORMACIÓN};
\node[gri,tam={1.00}{0.46},font=\fontsize{2.2}{2.7}\selectfont] (deptFactG) at (31.80,-61.04) {DEPARTAMENTO DE\\FACTURAS Y PAGOS};
\coordinate (finG) at (31.84,-62.17);
\node[hexa,tam={2.12}{1.29}] (hexMand) at (28.18,-60.11) {Mandará una notificación\\al área con la informació\\n de los productos selecc\\ionados y cantidades de\\merma, se podrá visualiz\\ar evidencia fotográfica.};
\node[hexa,fill=verdec,signal pointer angle=156,tam={2.06}{0.76},font=\szB] (hexResolver) at (20.94,-60.00) {Resolver en que parte del proceso s\\e realizará el descuento de merma.};
\node[gri,tam={1.09}{0.65}] (encCalSup) at (24.88,-59.87) {ENCARGADO DE\\CALIDAD O\\SUPERVISOR};
\node[nar,tam={1.00}{0.61}] (aprobarG) at (24.88,-61.27) {APROBAR};
\node[hexa,tam={1.79}{0.94},font=\szC] (hexAprueba) at (22.84,-61.28) {Se aprueba pero queda\\pendiente proceso de\\MERMA.};
\node[nar,tam={1.00}{0.60}] (transf) at (24.88,-62.77) {TRANSFERÍR\\PRODUCTOS};
\node[caja,tam={1.00}{0.60}] (listaMerma) at (24.88,-63.98) {LISTA DE\\PRODUCTOS\\CON MERMA};
\node[hexa,tam={1.76}{1.09},font=\szB] (hexLista) at (27.62,-63.98) {Dentro del sistema se\\hará una lista de los\\productos con merma.};
\node[caja,tam={1.00}{0.60}] (almacen) at (24.88,-65.27) {ALMACÉN\\PREDETERMINAD\\O};
\node[nar,tam={1.00}{0.60}] (aceptarG4) at (24.88,-66.47) {ACEPTAR};
\node[gri,tam={1.09}{0.65}] (encCalSup2) at (24.88,-67.75) {ENCARGADO DE\\CALIDAD O\\SUPERVISOR};
\node[nar,tam={1.00}{0.61}] (aprobarG2) at (24.88,-68.98) {APROBAR};
\node[estadio,fill=azul,rounded corners=0.28cm,tam={1.00}{0.61}] (finRod) at (24.88,-70.18) {FIN SISTEMA\\RODMAC};
\node[lbl] (noG1) at (17.94,-53.25) {NO};
\node[lbl] (siG1) at (16.37,-53.77) {SI};
\node[lbl] (noG2) at (17.63,-55.42) {NO};
\node[lbl] (siG2) at (16.99,-56.45) {SI};
\node[lbl] (siG3) at (17.86,-58.42) {SI};
\node[lbl] (noG3) at (17.07,-59.05) {NO};

\draw[flecha] (regEt2a.north) |- (iniEt2.east);
\draw[flecha] (seleccion.west) -- ++(-0.70,0) -- ++(0,-0.28) -- ++(-0.80,0);
\draw[flecha] (calibre2.west) -- ++(-0.66,0) -- ++(0,0.36) -- ++(-0.76,0);
\draw[flecha] (empaque.west) -- ++(-0.65,0) -- ++(0,0.30) -- ++(-0.71,0);
\draw[flecha] (acomodo.west) -- ++(-0.71,0) -- ++(0,0.10) -- ++(-0.79,0);
\draw[flecha] (merma.west) -- ++(-1.36,0);
\draw[flecha] (calibre2) -- (empaque);
\draw[flecha] (empaque) -- (acomodo);
\draw[flecha] (acomodo) -- (merma);
\draw[flecha] (merma) -- (evid2);
\draw[flecha] (evid2) -- (fotos2);
\draw[flecha] (fotos2) -- (aceptarG1);
\draw[flecha] (aceptarG1) -- (segAcep2);
\draw[flecha] (segAcep2) -- (finEt2);
\draw[flecha] (finEt2) -- (segFin);
\draw[flecha] (segFin) -- (aceptarG2);
\draw[flecha] (aceptarG2) -- (recMerma);
\draw[flecha] (recMerma) -- (prodSin);
\draw[flecha] (prodSin) -- (aprobarG3);
\draw[flecha] (segAcep2) -- (regEt2a);
\draw[flecha] (regEt2b) -- (regEt2a);
\draw[flecha,draw=black!45] (segFin) -- (regEt2b);
\draw[flecha] (recMerma) -- (selProdO);
\draw[flecha] (selProdO) -- (selProdW);
\draw[flecha] (selProdW) -- (ingCant);
\draw[flecha] (ingCant) -- (aceptarG3);
\draw[flecha] (aceptarG3) -- (deptCompG);
\draw[flecha] (deptCompG) -- (notifG);
\draw[flecha] (notifG) -- (contactG);
\draw[flecha] (contactG) -- (agrComG);
\draw[flecha] (agrComG) -- (envInfo);
\draw[flecha] (envInfo) -- (deptFactG);
\draw[flecha] (deptFactG.south) -- ++(0,-0.41) -| (finG);
\draw[flecha] (notifG) -- (hexMand);
\draw[flecha] (selProdW) -- (hexResolver);
\draw[flecha] (aceptarG3) -- (encCalSup);
\draw[flecha] (encCalSup) -- (aprobarG);
\draw[flecha] (aprobarG) -- (hexAprueba);
\draw[flecha] (aprobarG) -- (transf);
\draw[flecha] (transf) -- (listaMerma);
\draw[flecha] (listaMerma) -- (hexLista);
\draw[flecha] (listaMerma) -- (almacen);
\draw[flecha] (almacen) -- (aceptarG4);
\draw[flecha] (aceptarG4) -- (encCalSup2);
\draw[flecha] (encCalSup2) -- (aprobarG2);
\draw[flecha] (aprobarG2) -- (finRod);

\node[anchor=west,text=marca,font=\fontsize{38}{40}\selectfont,inner sep=0pt] (wm1) at (0.13,-66.75) {ClickCharts © NCH Software};
\node[anchor=west,text=marca,font=\fontsize{38}{40}\selectfont,inner sep=0pt] (wm2) at (0.13,-68.19) {Versión gratuita. Sólo para uso no profesional.};
\node[anchor=west,text=marca,font=\fontsize{38}{40}\selectfont,inner sep=0pt] (wm3) at (0.13,-69.67) {Comprar actualización a la versión profesional para eliminar.};
\end{tikzpicture}
\end{document}
